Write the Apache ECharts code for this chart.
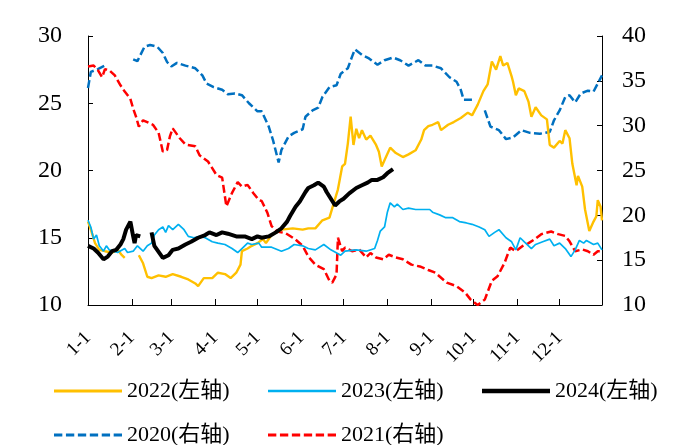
<!DOCTYPE html>
<html>
<head>
<meta charset="utf-8">
<script src="https://cdn.jsdelivr.net/npm/echarts@6/dist/echarts.min.js"></script>
<style>
  html, body { margin: 0; padding: 0; background: #fff; }
  #chart { width: 684px; height: 445px; }
</style>
</head>
<body>
<div id="chart"></div>
<script>
// Day-of-year categories (non-leap year), labelled "M-D"
const monthLengths = [31, 28, 31, 30, 31, 30, 31, 31, 30, 31, 30, 31];
const days = [];
monthLengths.forEach((n, m) => { for (let d = 1; d <= n; d++) days.push((m + 1) + '-' + d); });

// Axis ranges
const leftTicks = { min: 10, max: 30, step: 5 };
const rightTicks = { min: 10, max: 40, step: 5 };

// Series values as [day index, value]; null marks a break in the line
const s2020 = [[0,34.2],[2,36.0],[7,36.3],[12,36.7],[20,null],[32,37.4],[35,37.2],[40,38.8],[44,39.0],[49,38.8],[53,38.1],[56,37.1],[59,36.6],[63,37.0],[69,36.7],[76,36.4],[81,35.6],[84,34.7],[89,34.3],[95,34.0],[99,33.5],[104,33.6],[109,33.4],[114,32.5],[120,31.6],[123,31.6],[128,29.9],[131,28.4],[135,25.9],[137,27.3],[142,28.8],[146,29.2],[152,29.6],[154,31.0],[159,31.7],[163,32.0],[166,33.2],[171,34.3],[176,34.5],[179,35.8],[184,36.4],[187,37.7],[189,38.5],[194,37.9],[199,37.5],[205,36.8],[210,37.3],[216,37.6],[221,37.3],[227,36.7],[234,37.3],[239,36.7],[244,36.7],[250,36.4],[256,35.4],[261,34.9],[264,34.0],[266,32.9],[272,32.9],[276,null],[281,31.7],[285,29.9],[291,29.5],[296,28.5],[301,28.7],[307,29.5],[313,29.2],[320,29.1],[327,29.3],[330,30.6],[334,31.7],[338,33.2],[341,33.4],[345,32.6],[349,33.6],[354,33.9],[358,33.8],[361,34.7],[364,35.6]];

const s2021 = [[0,36.6],[4,36.7],[7,36.2],[10,35.4],[12,36.3],[15,36.2],[19,35.6],[23,34.5],[26,33.8],[30,33.0],[32,31.9],[34,31.0],[36,29.9],[39,30.6],[46,30.1],[50,29.2],[53,27.1],[56,27.3],[58,28.8],[60,29.7],[65,28.6],[69,27.9],[76,27.7],[79,26.7],[85,26.0],[91,24.5],[95,24.2],[98,21.0],[102,22.5],[106,23.7],[109,23.2],[113,23.4],[117,22.5],[121,21.7],[123,21.6],[127,20.3],[130,18.8],[134,18.2],[140,18.0],[147,17.3],[152,16.6],[156,15.4],[161,14.5],[167,14.0],[171,12.7],[173,12.5],[176,13.4],[177,17.5],[180,16.0],[182,16.4],[187,16.0],[192,16.2],[197,15.3],[200,15.8],[204,15.3],[209,15.1],[213,15.6],[218,15.3],[223,15.1],[229,14.5],[235,14.3],[241,13.9],[246,13.6],[254,12.5],[261,12.1],[267,11.4],[271,10.6],[276,10.0],[281,10.6],[286,12.7],[290,13.2],[295,14.7],[299,16.4],[303,16.0],[308,16.6],[312,16.9],[316,17.3],[321,17.9],[328,18.2],[333,17.9],[338,17.7],[341,17.1],[345,16.0],[350,16.2],[354,16.0],[358,15.6],[361,16.0],[364,16.0]];

const s2022 = [[0,16.2],[2,15.6],[5,14.6],[8,14.1],[12,14.0],[17,13.9],[21,14.1],[24,13.7],[26,13.5],[31,null],[36,13.7],[39,13.1],[42,12.1],[45,12.0],[50,12.2],[55,12.1],[60,12.3],[66,12.1],[71,11.9],[76,11.6],[78,11.4],[82,12.0],[88,12.0],[92,12.4],[97,12.3],[101,12.0],[105,12.4],[108,13.0],[109,14.0],[113,14.2],[116,14.4],[120,14.6],[124,14.9],[126,14.6],[130,15.2],[137,15.6],[145,15.7],[152,15.6],[156,15.7],[161,15.7],[166,16.3],[171,16.5],[173,17.2],[177,18.6],[180,20.3],[182,20.5],[184,22.0],[186,24.0],[188,21.9],[190,23.1],[192,22.4],[194,23.0],[197,22.3],[200,22.6],[204,21.9],[206,21.4],[208,20.3],[211,21.0],[214,21.7],[218,21.3],[223,21.0],[227,21.2],[232,21.5],[236,22.3],[238,23.0],[241,23.3],[244,23.4],[248,23.6],[250,23.0],[255,23.4],[259,23.6],[264,23.9],[269,24.3],[272,24.1],[276,24.9],[280,25.9],[283,26.4],[286,28.1],[289,27.5],[292,28.5],[294,27.8],[297,28.0],[300,27.0],[301,26.6],[303,25.6],[305,26.1],[309,25.9],[312,25.1],[314,24.0],[317,24.7],[321,24.1],[325,23.8],[327,21.9],[330,21.7],[334,22.2],[336,22.0],[338,23.0],[341,22.4],[343,20.5],[346,18.9],[347,19.6],[350,18.8],[352,17.1],[355,15.5],[358,16.2],[360,16.6],[361,17.8],[363,17.3],[364,16.3]];

const s2023 = [[0,16.3],[2,15.8],[4,14.9],[6,15.2],[8,14.4],[11,14.0],[13,14.4],[15,14.1],[21,13.9],[26,14.2],[28,13.9],[32,14.0],[35,14.4],[39,14.0],[42,14.4],[45,14.6],[47,15.2],[50,15.6],[53,15.8],[55,15.4],[57,15.9],[60,15.6],[64,16.0],[68,15.6],[71,15.1],[75,15.0],[79,15.1],[83,15.0],[88,14.7],[92,14.6],[97,14.5],[102,14.2],[106,13.9],[109,14.2],[113,14.6],[116,14.5],[121,14.6],[123,14.3],[130,14.3],[137,14.0],[142,14.2],[146,14.5],[152,14.4],[156,14.2],[161,14.1],[167,14.5],[172,14.1],[179,13.7],[182,14.0],[190,14.1],[197,14.0],[203,14.2],[205,14.8],[207,15.5],[210,15.8],[212,16.9],[214,17.6],[217,17.3],[219,17.5],[223,17.1],[227,17.2],[232,17.1],[237,17.1],[242,17.1],[244,16.9],[249,16.7],[253,16.5],[258,16.5],[263,16.2],[268,16.1],[272,16.0],[277,15.8],[281,15.6],[284,15.1],[288,15.4],[291,15.6],[296,15.0],[300,14.7],[303,14.1],[306,15.0],[309,14.7],[314,14.2],[317,14.5],[322,14.7],[327,14.9],[330,14.4],[334,14.6],[338,14.2],[342,13.6],[345,14.1],[348,14.8],[351,14.6],[353,14.8],[358,14.5],[361,14.6],[364,14.1]];

const s2024 = [[0,14.4],[4,14.2],[7,13.9],[11,13.4],[14,13.6],[17,14.0],[20,14.1],[23,14.5],[25,14.9],[27,15.6],[30,16.2],[31,16.3],[32,15.1],[33,14.6],[34,15.2],[37,15.1],[41,null],[45,15.4],[47,14.4],[51,13.8],[53,13.5],[57,13.7],[60,14.1],[64,14.2],[69,14.5],[73,14.7],[78,15.0],[83,15.2],[86,15.4],[91,15.2],[95,15.4],[99,15.3],[105,15.1],[111,15.1],[116,14.9],[120,15.1],[123,15.0],[128,15.1],[133,15.4],[137,15.7],[141,16.2],[143,16.6],[147,17.3],[150,17.7],[154,18.4],[156,18.7],[160,18.9],[163,19.1],[167,18.8],[169,18.4],[172,17.9],[175,17.4],[178,17.7],[181,17.9],[185,18.3],[190,18.7],[194,18.9],[198,19.1],[201,19.3],[205,19.3],[209,19.5],[212,19.8],[216,20.1]];

const seriesNames = ['2022(左轴)', '2023(左轴)', '2024(左轴)', '2020(右轴)', '2021(右轴)'];

const FONT = '"Liberation Serif", "Times New Roman", "Noto Sans CJK SC", serif';
const isMonthStart = (i, v) => /-1$/.test(v);

// Legend icons: a solid bar, or six short dashes
const SOLID_ICON = 'path://M0,0H68V1H0Z';
const DASH_ICON = 'path://M0,0h8.3v1h-8.3z M11.9,0h8.3v1h-8.3z M23.8,0h8.3v1h-8.3z M35.7,0h8.3v1h-8.3z M47.6,0h8.3v1h-8.3z M59.5,0h8.3v1h-8.3z';

const chart = echarts.init(document.getElementById('chart'), null, { renderer: 'canvas' });

function legendAt(name, left, top, icon, thickness) {
  return {
    data: [{ name: name, icon: icon }], left: left, top: top,
    itemWidth: 68, itemHeight: thickness, itemGap: 0,
    symbolKeepAspect: false,
    itemStyle: { borderWidth: 0 },
    lineStyle: { width: 0 },
    textStyle: { fontFamily: FONT, fontSize: 22, color: '#000' }
  };
}

function lineSeries(name, data, yIndex, color, width, dashed, z) {
  return {
    name: name, type: 'line', yAxisIndex: yIndex, data: data,
    symbol: 'none', showSymbol: false, connectNulls: false, z: z,
    lineStyle: { color: color, width: width, type: dashed ? [8, 3.5] : 'solid' },
    itemStyle: { color: color },
    animation: false
  };
}

chart.setOption({
  animation: false,
  backgroundColor: '#fff',
  grid: { left: 88, right: 82, top: 36, bottom: 140, containLabel: false },
  legend: [
    legendAt(seriesNames[0], 49, 375, SOLID_ICON, 3),
    legendAt(seriesNames[1], 263, 375, SOLID_ICON, 2.5),
    legendAt(seriesNames[2], 477, 375, SOLID_ICON, 4.5),
    legendAt(seriesNames[3], 49, 419, DASH_ICON, 3),
    legendAt(seriesNames[4], 263, 419, DASH_ICON, 3)
  ],
  xAxis: {
    type: 'category', data: days, boundaryGap: false,
    axisLine: { lineStyle: { color: '#000', width: 1 } },
    axisTick: { interval: isMonthStart, inside: true, length: 6, lineStyle: { color: '#000' } },
    axisLabel: { interval: isMonthStart, rotate: 45, fontFamily: FONT, fontSize: 19, color: '#000', margin: 30 },
    splitLine: { show: false }
  },
  yAxis: [
    {
      type: 'value', position: 'left', min: leftTicks.min, max: leftTicks.max, interval: leftTicks.step,
      axisLine: { show: true, lineStyle: { color: '#000' } },
      axisTick: { show: true, inside: true, length: 5, lineStyle: { color: '#000' } },
      axisLabel: { fontFamily: FONT, fontSize: 24, color: '#000', margin: 26 },
      splitLine: { show: false }
    },
    {
      type: 'value', position: 'right', min: rightTicks.min, max: rightTicks.max, interval: rightTicks.step,
      axisLine: { show: true, lineStyle: { color: '#000' } },
      axisTick: { show: true, inside: true, length: 5, lineStyle: { color: '#000' } },
      axisLabel: { fontFamily: FONT, fontSize: 24, color: '#000', margin: 20 },
      splitLine: { show: false }
    }
  ],
  series: [
    lineSeries(seriesNames[3], s2020, 1, '#0070C0', 2.5, true, 2),
    lineSeries(seriesNames[4], s2021, 1, '#FF0000', 2.5, true, 2),
    lineSeries(seriesNames[0], s2022, 0, '#FFC000', 2.4, false, 3),
    lineSeries(seriesNames[1], s2023, 0, '#00B0F0', 1.7, false, 3),
    lineSeries(seriesNames[2], s2024, 0, '#000000', 4, false, 4)
  ]
});
</script>
</body>
</html>
